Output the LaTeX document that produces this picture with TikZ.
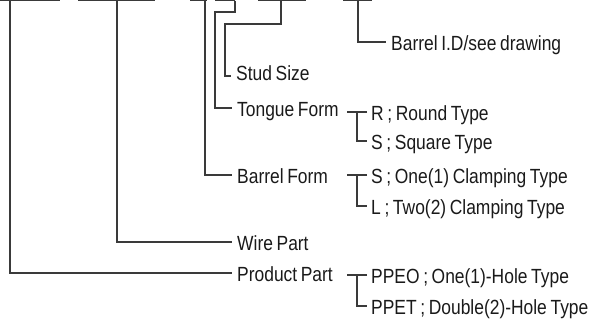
\documentclass[tikz,border=0pt]{standalone}
\usepackage{fontspec}
\setmainfont{Liberation Sans}[FakeStretch=0.85, WordSpace=0.75]
\usetikzlibrary{positioning}
\definecolor{codeGrey}{HTML}{3A3A3A}
\definecolor{codeText}{HTML}{1A1A1A}
\tikzset{
  codeline/.style = {codeGrey, line width=1.25pt},
  lbl/.style      = {anchor=west, inner xsep=5pt, inner ysep=0pt, text=codeText,
                     text height=17pt, text depth=0pt, font=\fontsize{20.5}{24}\selectfont},
  sub/.style      = {lbl, inner xsep=4pt, text height=16pt},
}
\begin{document}
\begin{tikzpicture}[x=1pt,y=-1pt]
  \useasboundingbox (0,0) rectangle (595,324);
  % code blanks along the top
  \foreach \a/\b/\d/\n in {0/60/10/cProd, 78/155/117/cWire, 190/207/205/cBarrel,
                           215/235/235/cTongue, 258/306/281/cStud, 343/372/358/cBid} {
    \draw[codeline] (\a,0.6) -- (\b,0.6);
    \coordinate (\n) at (\d,0.6);
  }
  \coordinate (jTongue) at (215,12);
  \coordinate (jStud) at (225,24);

  % labels
  \node[lbl] (bid)    at (386,42)  {Barrel I.D/see drawing};
  \node[lbl] (stud)   at (231,72)  {Stud Size};
  \node[lbl] (tongue) at (232,108) {Tongue Form};
  \node[lbl] (barrel) at (232,175) {Barrel Form};
  \node[lbl] (wire)   at (232,242) {Wire Part};
  \node[lbl] (prod)   at (232,273) {Product Part};

  \node[sub] (tongR)  at (367,112) {R ; Round Type};
  \node[sub] (tongS)  at (367,141) {S ; Square Type};
  \node[sub] (barS)   at (367,175) {S ; One(1) Clamping Type};
  \node[sub] (barL)   at (367,206) {L ; Two(2) Clamping Type};
  \node[sub] (prodO)  at (367,275) {PPEO ; One(1)-Hole Type};
  \node[sub] (prodT)  at (367,306) {PPET ; Double(2)-Hole Type};

  % leaders
  \draw[codeline] (cBid) |- (bid.west);
  \draw[codeline] (cStud) |- (jStud) |- ([yshift=-4pt]stud.west);
  \draw[codeline] (cTongue) |- (jTongue) |- (tongue.west);
  \draw[codeline] (cBarrel) |- (barrel.west);
  \draw[codeline] (cWire) |- (wire.west);
  \draw[codeline] (cProd) |- (prod.west);

  % option brackets
  \foreach \top/\bot in {tongR/tongS, barS/barL, prodO/prodT} {
    \draw[codeline] (\top.west) -- ++(-20,0);
    \draw[codeline] (\top.west) ++(-10,0) |- (\bot.west);
  }
\end{tikzpicture}
\end{document}
